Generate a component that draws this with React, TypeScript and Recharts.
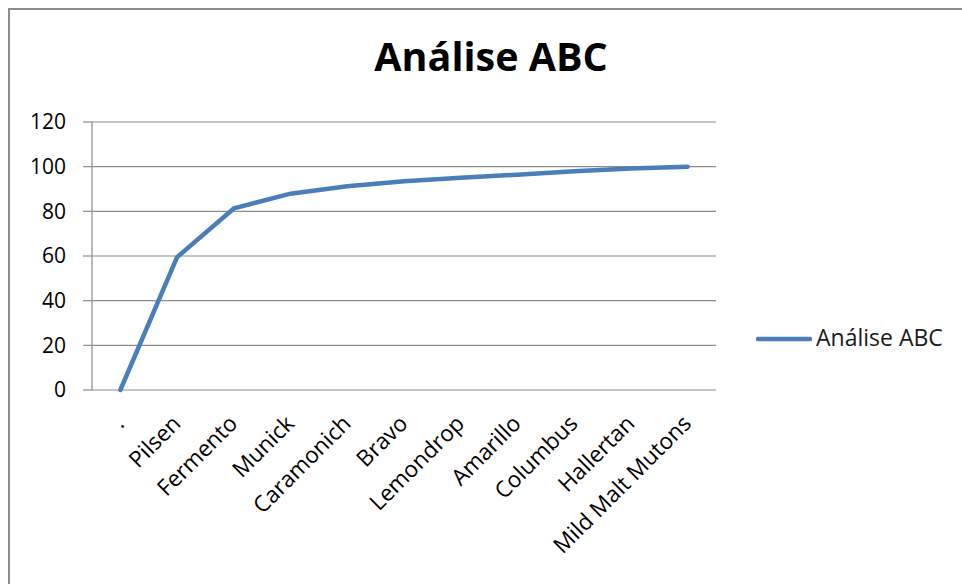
import { LineChart, Line, XAxis, YAxis, CartesianGrid, Legend } from 'recharts'

const categories = ['.', 'Pilsen', 'Fermento', 'Munick', 'Caramonich', 'Bravo', 'Lemondrop', 'Amarillo', 'Columbus', 'Hallertan', 'Mild Malt Mutons']
const abcValues = [0, 59.5, 81.3, 87.9, 91.2, 93.5, 95, 96.4, 98, 99.2, 100]
const yTicks = [0, 20, 40, 60, 80, 100, 120]
const seriesName = 'Análise ABC'

const data = categories.map((name, i) => ({ name, abc: abcValues[i] }))
const boundaryTicks = categories.map((_, i) => i).concat(categories.length)

const GRID = '#8c8c8c'
const BLUE = '#4a7ebb'

function CategoryTick({ x, y, payload }: any) {
  const ax = x + 5
  const ay = y + 35
  return (
    <text x={ax} y={ay} textAnchor="end" fontSize={22.5} fill="#000" transform={`rotate(-45, ${ax}, ${ay})`}>
      {payload.value}
    </text>
  )
}

function LegendContent() {
  return (
    <svg width={210} height={34}>
      <line x1={8} x2={60} y1={17} y2={17} stroke={BLUE} strokeWidth={4.5} strokeLinecap="round" />
      <text x={66} y={24} fontSize={23} fill="#1a1a1a">{seriesName}</text>
    </svg>
  )
}

export default function App() {
  return (
    <div style={{ position: 'relative', width: 962, height: 584, fontFamily: '"Open Sans", sans-serif', overflow: 'hidden', background: '#fff' }}>
      <style>{'body{margin:0}'}</style>
      <div style={{ position: 'absolute', left: 8, top: 8, width: 1000, height: 700, borderLeft: `2px solid ${GRID}`, borderTop: `2px solid ${GRID}` }} />
      <div style={{ position: 'absolute', left: 491, top: 37, transform: 'translateX(-50%)', fontSize: 39.5, lineHeight: 1, fontWeight: 700, color: '#000', whiteSpace: 'nowrap' }}>
        {seriesName}
      </div>
      <div style={{ position: 'absolute', left: 0, top: 0 }}>
        <LineChart width={962} height={584} data={data} margin={{ top: 122, right: 246, bottom: 44, left: 32 }}>
          <CartesianGrid vertical={false} stroke={GRID} strokeWidth={1.2} />
          <XAxis
            xAxisId="bounds"
            type="number"
            domain={[0, categories.length]}
            ticks={boundaryTicks}
            allowDataOverflow
            height={0}
            tick={false}
            tickSize={9}
            axisLine={{ stroke: GRID, strokeWidth: 1.2 }}
            tickLine={{ stroke: GRID, strokeWidth: 1.2 }}
          />
          <XAxis
            dataKey="name"
            scale="band"
            interval={0}
            height={150}
            axisLine={false}
            tickLine={false}
            tickSize={0}
            tickMargin={0}
            tick={<CategoryTick />}
          />
          <YAxis
            domain={[0, 120]}
            ticks={yTicks}
            width={60}
            tickSize={9}
            tickMargin={17}
            tick={{ fill: '#000', fontSize: 21 }}
            axisLine={{ stroke: GRID, strokeWidth: 1.2 }}
            tickLine={{ stroke: GRID, strokeWidth: 1.2 }}
          />
          <Legend
            layout="horizontal"
            align="center"
            verticalAlign="middle"
            wrapperStyle={{ left: 750, top: 322, width: 210 }}
            content={<LegendContent />}
          />
          <Line
            type="linear"
            dataKey="abc"
            name={seriesName}
            stroke={BLUE}
            strokeWidth={4.5}
            strokeLinecap="round"
            strokeLinejoin="round"
            dot={false}
            activeDot={false}
            isAnimationActive={false}
          />
        </LineChart>
      </div>
    </div>
  )
}
